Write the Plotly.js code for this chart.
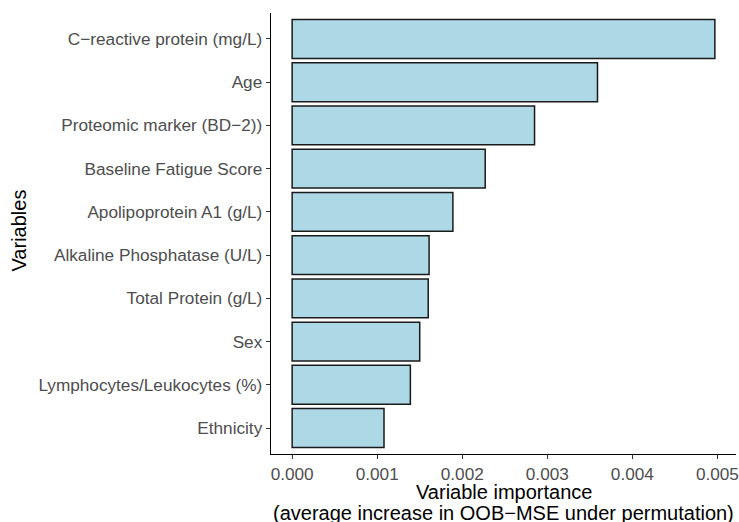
<!DOCTYPE html>
<html>
<head>
<meta charset="utf-8">
<script src="https://cdn.plot.ly/plotly-3.0.1.min.js"></script>
<style>html,body{margin:0;padding:0;background:#fff;}#chart{width:739px;height:522px;}</style>
</head>
<body>
<div id="chart"></div>
<script>
// Variables, top to bottom
var variables = [
  "C\u2212reactive protein (mg/L)",
  "Age",
  "Proteomic marker (BD\u22122))",
  "Baseline Fatigue Score",
  "Apolipoprotein A1 (g/L)",
  "Alkaline Phosphatase (U/L)",
  "Total Protein (g/L)",
  "Sex",
  "Lymphocytes/Leukocytes (%)",
  "Ethnicity"
];
var importance = [0.00497, 0.00359, 0.00285, 0.00227, 0.00189, 0.00161, 0.00160, 0.00150, 0.00139, 0.00108];
var xTicks = [0, 0.001, 0.002, 0.003, 0.004, 0.005];
var xTickLabels = ["0.000", "0.001", "0.002", "0.003", "0.004", "0.005"];
var xTitleLines = ["Variable importance", "(average increase in OOB\u2212MSE under permutation)"];
var yTitle = "Variables";

var maxV = Math.max.apply(null, importance);

var trace = {
  type: "bar",
  orientation: "h",
  y: variables,
  x: importance,
  width: 0.9,
  marker: {color: "#ADD8E6", line: {color: "#1a1a1a", width: 1.5}},
  hoverinfo: "x+y"
};

var L = 271, R = 3, T = 13, B = 68, W = 739, H = 522;
var pw = W - L - R, ph = H - T - B;
function px2x(px) { return (px - L) / pw; }
function py2y(py) { return (H - B - py) / ph; }

var titleFont = {family: "Liberation Sans, Arial, sans-serif", size: 20, color: "#000000"};

var layout = {
  width: W, height: H,
  margin: {l: L, r: R, t: T, b: B},
  paper_bgcolor: "#ffffff", plot_bgcolor: "#ffffff",
  font: {family: "Liberation Sans, Arial, sans-serif", size: 17.2, color: "#4D4D4D"},
  showlegend: false,
  xaxis: {
    range: [-0.05 * maxV, 1.05 * maxV],
    tickvals: xTicks, ticktext: xTickLabels,
    showgrid: false, zeroline: false,
    showline: true, linecolor: "#000000", linewidth: 1.3,
    ticks: "outside", ticklen: 4, tickcolor: "#333333", tickwidth: 1.1,
    tickfont: {size: 17.2, color: "#4D4D4D"},
    fixedrange: true
  },
  yaxis: {
    type: "category",
    categoryorder: "array", categoryarray: variables,
    range: [variables.length - 0.4, -0.6],
    showgrid: false, zeroline: false,
    showline: true, linecolor: "#000000", linewidth: 1.3,
    ticks: "outside", ticklen: 4, tickcolor: "#333333", tickwidth: 1.1,
    tickfont: {size: 17.2, color: "#4D4D4D"},
    fixedrange: true
  },
  annotations: [
    {text: xTitleLines[0], xref: "paper", yref: "paper", x: px2x(503.5), y: py2y(492),
     xanchor: "center", yanchor: "middle", showarrow: false, font: titleFont},
    {text: xTitleLines[1], xref: "paper", yref: "paper", x: px2x(503.5), y: py2y(512.5),
     xanchor: "center", yanchor: "middle", showarrow: false, font: titleFont},
    {text: yTitle, xref: "paper", yref: "paper", x: px2x(18.5), y: py2y(231),
     xanchor: "center", yanchor: "middle", textangle: -90, showarrow: false, font: titleFont}
  ]
};

Plotly.newPlot("chart", [trace], layout, {displayModeBar: false, staticPlot: true});
</script>
</body>
</html>
